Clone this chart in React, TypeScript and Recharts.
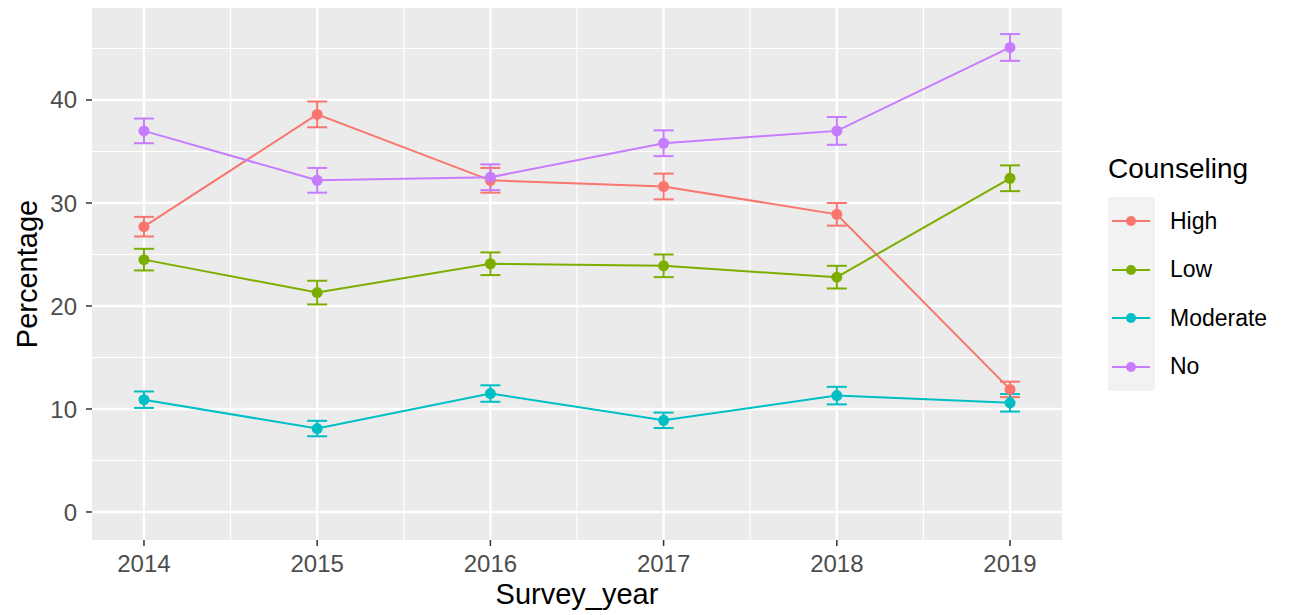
import { LineChart, Line, XAxis, YAxis, CartesianGrid, ErrorBar } from 'recharts'

const years = [2014, 2015, 2016, 2017, 2018, 2019]

const high = [27.7, 38.6, 32.2, 31.6, 28.9, 11.9]
const highErr = [0.95, 1.25, 1.2, 1.25, 1.1, 0.75]
const low = [24.5, 21.3, 24.1, 23.9, 22.8, 32.4]
const lowErr = [1.05, 1.15, 1.1, 1.1, 1.1, 1.25]
const moderate = [10.9, 8.1, 11.5, 8.9, 11.3, 10.6]
const moderateErr = [0.8, 0.75, 0.8, 0.75, 0.85, 0.85]
const no = [37.0, 32.2, 32.5, 35.8, 37.0, 45.1]
const noErr = [1.2, 1.2, 1.25, 1.25, 1.35, 1.3]

const yTicks = [0, 10, 20, 30, 40]
const yMinor = [5, 15, 25, 35, 45]
const xMinor = [2014.5, 2015.5, 2016.5, 2017.5, 2018.5]

const C = {
  high: '#F8766D',
  low: '#7CAE00',
  moderate: '#00BFC4',
  no: '#C77CFF',
  panel: '#EBEBEB',
  tick: '#4D4D4D',
  text: '#000000',
}

const series = [
  { key: 'high', name: 'High', color: C.high },
  { key: 'low', name: 'Low', color: C.low },
  { key: 'moderate', name: 'Moderate', color: C.moderate },
  { key: 'no', name: 'No', color: C.no },
]

const data = years.map((y, i) => ({
  year: y,
  high: high[i], highErr: highErr[i],
  low: low[i], lowErr: lowErr[i],
  moderate: moderate[i], moderateErr: moderateErr[i],
  no: no[i], noErr: noErr[i],
}))

const FONT = '"Liberation Sans", Arial, sans-serif'

// legend drawn as plain html next to the panel, like ggplot's guide box
function LegendBox() {
  return (
    <div style={{ position: 'absolute', left: 1108, top: 153, fontFamily: FONT, color: C.text }}>
      <div style={{ fontSize: 28, lineHeight: '32px', marginBottom: 12 }}>Counseling</div>
      {series.map((s) => (
        <div key={s.key} style={{ display: 'flex', alignItems: 'center', height: 48.5 }}>
          <div style={{ width: 47, height: 48.5, background: '#F2F2F2', position: 'relative' }}>
            <svg width={47} height={48.5} style={{ position: 'absolute', left: 0, top: 0 }}>
              <line x1={4} x2={42} y1={24} y2={24} stroke={s.color} strokeWidth={2} />
              <circle cx={23} cy={24} r={5} fill={s.color} />
            </svg>
          </div>
          <span style={{ fontSize: 23, marginLeft: 15 }}>{s.name}</span>
        </div>
      ))}
    </div>
  )
}

export default function App() {
  return (
    <div style={{ position: 'absolute', left: 0, top: 0, width: 1294, height: 615, background: '#FFFFFF' }}>
      <LineChart
        width={1294}
        height={615}
        data={data}
        margin={{ top: 8, right: 232, bottom: 0, left: 0 }}
      >
        <CartesianGrid
          fill={C.panel}
          stroke="#FFFFFF"
          strokeWidth={1.2}
          horizontalValues={yMinor}
          verticalValues={xMinor}
        />
        <CartesianGrid
          stroke="#FFFFFF"
          strokeWidth={2.4}
          horizontalValues={yTicks}
          verticalValues={years}
        />
        <XAxis
          dataKey="year"
          type="number"
          domain={[2013.7, 2019.3]}
          ticks={years}
          height={75}
          axisLine={false}
          tickSize={6}
          tickLine={{ stroke: '#333333', strokeWidth: 1.5 }}
          tick={{ fill: C.tick, fontSize: 24, fontFamily: FONT }}
          tickMargin={9}
          label={{
            value: 'Survey_year',
            position: 'insideBottom',
            offset: 11,
            fill: C.text,
            fontSize: 29,
            fontFamily: FONT,
          }}
        />
        <YAxis
          type="number"
          domain={[-2.72, 48.93]}
          ticks={yTicks}
          width={92}
          axisLine={false}
          tickSize={6}
          tickLine={{ stroke: '#333333', strokeWidth: 1.5 }}
          tick={{ fill: C.tick, fontSize: 24, fontFamily: FONT }}
          tickMargin={9}
          allowDataOverflow
          label={{
            value: 'Percentage',
            angle: -90,
            position: 'insideLeft',
            offset: 27,
            fill: C.text,
            fontSize: 29,
            fontFamily: FONT,
            style: { textAnchor: 'middle' },
          }}
        />
        {series.map((s) => (
          <Line
            key={s.key}
            dataKey={s.key}
            name={s.name}
            stroke={s.color}
            strokeWidth={2}
            type="linear"
            dot={{ r: 5.5, fill: s.color, stroke: s.color, strokeWidth: 0 }}
            activeDot={false}
            isAnimationActive={false}
          >
            <ErrorBar
              dataKey={s.key + 'Err'}
              direction="y"
              width={10}
              stroke={s.color}
              strokeWidth={2}
            />
          </Line>
        ))}
      </LineChart>
      <LegendBox />
    </div>
  )
}
